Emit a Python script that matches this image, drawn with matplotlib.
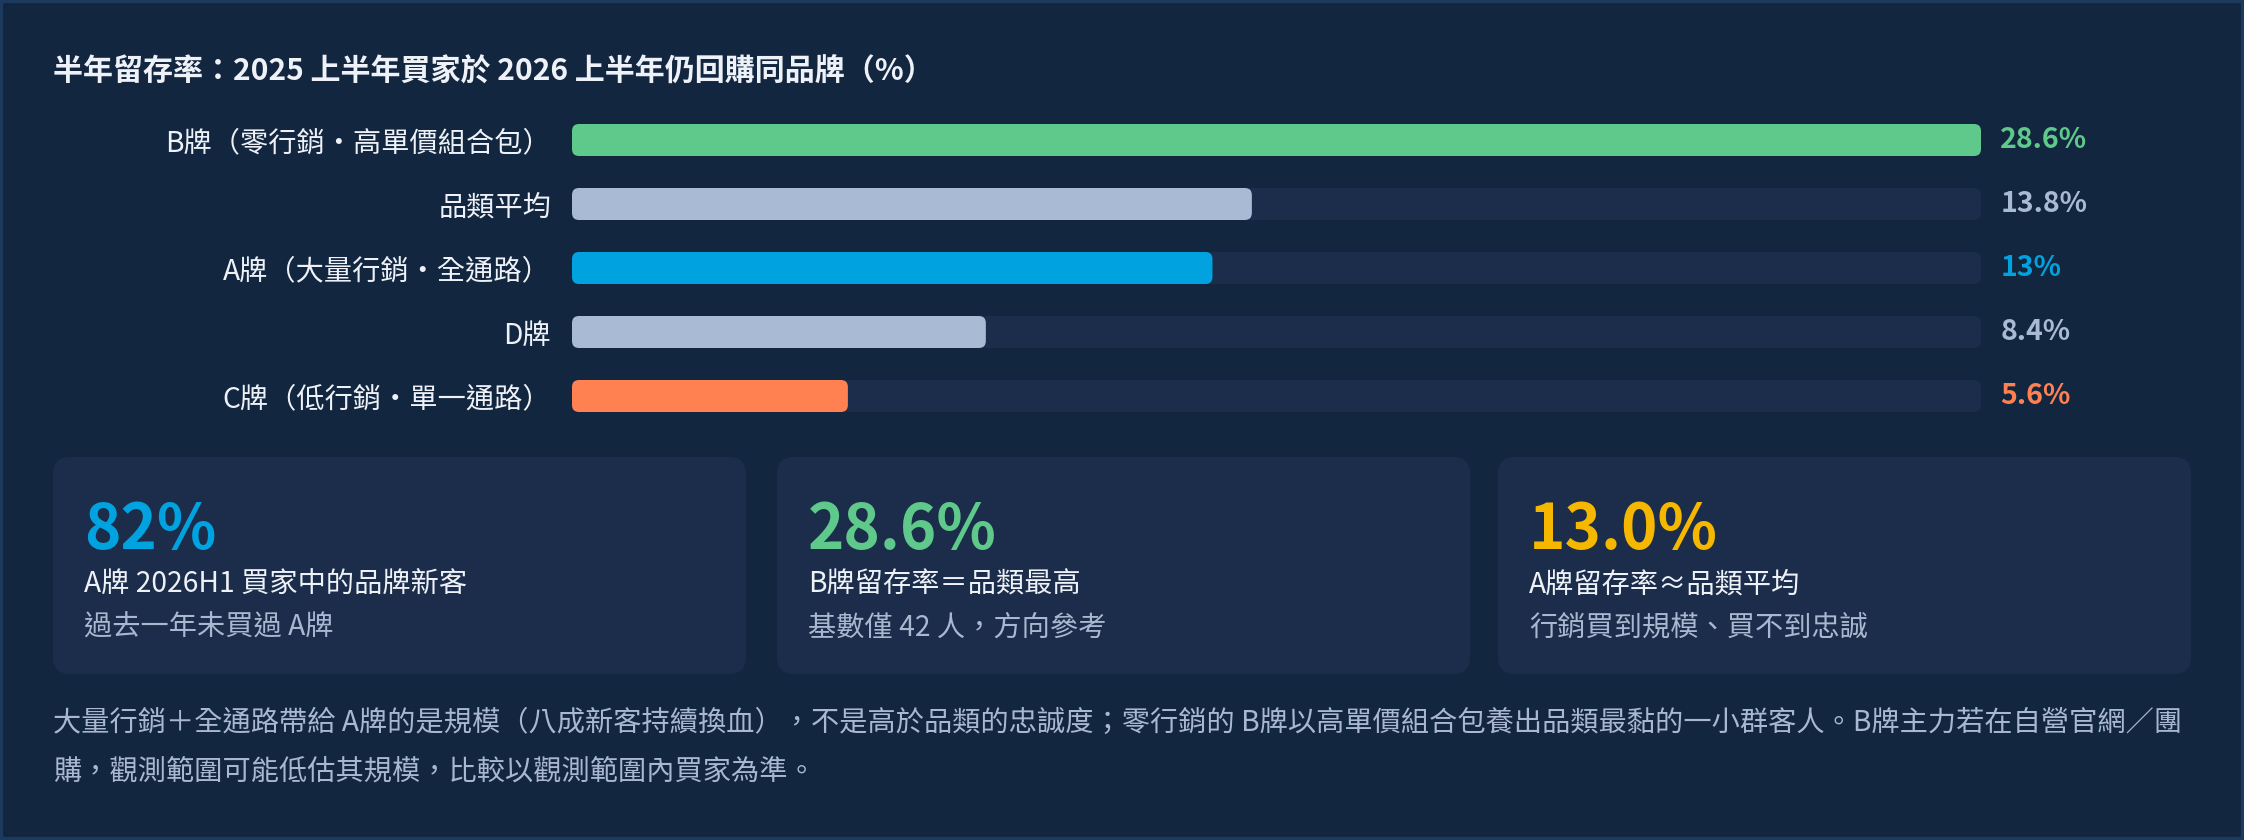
import matplotlib
matplotlib.use("Agg")
from matplotlib import pyplot as plt
from matplotlib.patches import FancyBboxPatch, Rectangle

plt.rcParams['font.family'] = ['Noto Sans CJK TC', 'DejaVu Sans']

# 資料
brands = ["B牌（零行銷・高單價組合包）", "品類平均", "A牌（大量行銷・全通路）", "D牌", "C牌（低行銷・單一通路）"]
retention = [28.6, 13.8, 13.0, 8.4, 5.6]
bar_colors = ["#5ec98b", "#a9bad5", "#00a3e0", "#a9bad5", "#ff8152"]

card_values = ["82%", "28.6%", "13.0%"]
card_titles = ["A牌 2026H1 買家中的品牌新客", "B牌留存率＝品類最高", "A牌留存率≈品類平均"]
card_notes = ["過去一年未買過 A牌", "基數僅 42 人，方向參考", "行銷買到規模、買不到忠誠"]
card_colors = ["#00a3e0", "#5ec98b", "#f5b700"]

title = "半年留存率：2025 上半年買家於 2026 上半年仍回購同品牌（%）"
footnote = ["大量行銷＋全通路帶給 A牌的是規模（八成新客持續換血），不是高於品類的忠誠度；零行銷的 B牌以高單價組合包養出品類最黏的一小群客人。B牌主力若在自營官網／團",
            "購，觀測範圍可能低估其規模，比較以觀測範圍內買家為準。"]

BG = "#13263f"
CARD = "#1b2d4a"
W, H = 2244, 840
FS = 20.3  # 內文字級

fig = plt.figure(figsize=(W / 100, H / 100), dpi=100)
fig.patch.set_facecolor(BG)

# 版面用的像素座標軸
base = fig.add_axes([0, 0, 1, 1])
base.set_xlim(0, W)
base.set_ylim(H, 0)
base.axis("off")
base.add_patch(Rectangle((1, 1), W - 2, H - 2, fill=False, edgecolor="#1c3a5e", lw=3))

base.text(53, 72, title, fontsize=21.6, fontweight="bold", color="#eef2f8", va="center", ha="left")

# 三張卡片
card_x = [53, 777, 1498]
card_w = 693
for i in range(3):
    x0 = card_x[i]
    base.add_patch(FancyBboxPatch((x0, 457), card_w, 217, boxstyle="round,pad=0,rounding_size=17",
                                  facecolor=CARD, edgecolor="none"))
    base.text(x0 + 31, 530, card_values[i], fontsize=44.5, fontweight="bold", color=card_colors[i],
              va="center", ha="left")
    base.text(x0 + 31, 585, card_titles[i], fontsize=FS, color="#eef2f8", va="center", ha="left")
    base.text(x0 + 31, 628, card_notes[i], fontsize=FS, color="#a9b8d0", va="center", ha="left")

for j, line in enumerate(footnote):
    base.text(53, 723 + j * 49, line, fontsize=FS, color="#a9b8d0", va="center", ha="left")

# 長條圖
ax = fig.add_axes([572 / W, 1 - 428 / H, 1409 / W, 320 / H])
ax.set_facecolor("none")
vmax = max(retention)
ax.set_xlim(0, vmax)
ax.set_ylim(len(brands) - 0.5, -0.5)
for s in ax.spines.values():
    s.set_visible(False)
ax.set_xticks([])
ax.set_yticks(range(len(brands)))
ax.set_yticklabels(brands, fontsize=FS, color="#eef2f8")
ax.tick_params(axis="y", length=0, pad=15)

fig.canvas.draw()
bb = ax.get_window_extent()
px_x = bb.width / vmax
px_y = bb.height / len(brands)
r = 7 / px_x
asp = px_x / px_y
bh = 0.5

for i, (v, c) in enumerate(zip(retention, bar_colors)):
    ax.add_patch(FancyBboxPatch((0, i - bh / 2), vmax, bh, boxstyle=f"round,pad=0,rounding_size={r}",
                                mutation_aspect=asp, facecolor=CARD, edgecolor="none"))
    ax.add_patch(FancyBboxPatch((0, i - bh / 2), v, bh, boxstyle=f"round,pad=0,rounding_size={r}",
                                mutation_aspect=asp, facecolor=c, edgecolor="none"))
    ax.annotate(f"{v:g}%", xy=(vmax, i), xytext=(14, 0), textcoords="offset points",
                fontsize=20.5, fontweight="bold", color=c, va="center", ha="left")

plt.savefig("out.png", dpi=100, facecolor=BG)
plt.close()
